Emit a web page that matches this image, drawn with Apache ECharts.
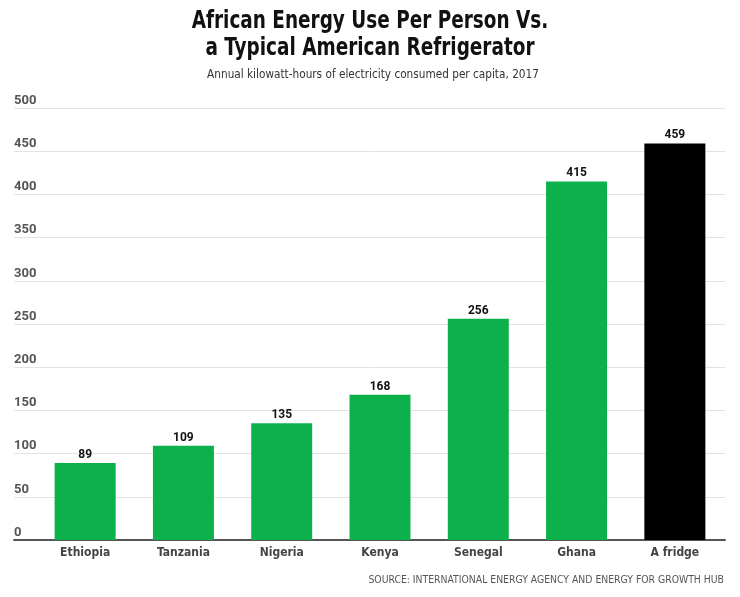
<!DOCTYPE html>
<html><head><meta charset="utf-8">
<script src="https://cdn.jsdelivr.net/npm/echarts@6/dist/echarts.min.js"></script>
<style>html,body{margin:0;padding:0;background:#fff}#c{width:740px;height:597px}</style>
</head><body><div id="c"></div>
<script>
const categories = ['Ethiopia','Tanzania','Nigeria','Kenya','Senegal','Ghana','A fridge'];
const values = [89,109,135,168,256,415,459];
const barColors = ['#0cb14b','#0cb14b','#0cb14b','#0cb14b','#0cb14b','#0cb14b','#000000'];
const yTicks = [0,50,100,150,200,250,300,350,400,450,500];

const chart = echarts.init(document.getElementById('c'), null, {renderer:'canvas'});
const narrow = "'DejaVu Sans Condensed','DejaVu Sans',sans-serif";
function txt(text, x, y, font, fill, align, sx){
  return {type:'text', x:x, y:y, scaleX:sx, silent:true,
    style:{text:text, x:0, y:0, font:font, fill:fill, textAlign:align, textVerticalAlign:'middle'}};
}
chart.setOption({
  backgroundColor:'#fff',
  animation:false,
  graphic:[
    txt('African Energy Use Per Person Vs.', 370, 21, "bold 25px "+narrow, '#111', 'center', 0.82),
    txt('a Typical American Refrigerator', 370, 48, "bold 25px "+narrow, '#111', 'center', 0.82),
    txt('Annual kilowatt-hours of electricity consumed per capita, 2017', 373, 75, "13px "+narrow, '#333', 'center', 0.9),
    txt('SOURCE: INTERNATIONAL ENERGY AGENCY AND ENERGY FOR GROWTH HUB', 724, 580, "11px "+narrow, '#555', 'right', 0.94)
  ],
  grid:[
    {left:14, right:15, top:108, bottom:57},
    {left:36, right:16, top:108, bottom:57}
  ],
  xAxis:[
    {gridIndex:0, type:'value', min:0, max:1, show:true, axisLabel:{show:false}, axisTick:{show:false}, splitLine:{show:false},
     axisLine:{show:true, onZero:false, lineStyle:{color:'#555', width:2}}},
    {gridIndex:1, type:'category', data:categories, axisLine:{show:false}, axisTick:{show:false},
     axisLabel:{fontFamily:narrow, fontWeight:'bold', fontSize:12, color:'#444', margin:7}}
  ],
  yAxis:[
    {gridIndex:0, type:'value', min:0, max:500, interval:50, axisLine:{show:false}, axisTick:{show:false},
     splitLine:{lineStyle:{color:'#e3e3e3', width:1}},
     axisLabel:{inside:true, margin:0, verticalAlign:'bottom', padding:[0,0,1,0], fontFamily:"Roboto,'Liberation Sans',sans-serif", fontWeight:'bold', fontSize:13, color:'#555',
       formatter:v=>yTicks.includes(v)?String(v):''}},
    {gridIndex:1, type:'value', min:0, max:500, interval:50, show:false}
  ],
  series:[{
    type:'bar', xAxisIndex:1, yAxisIndex:1, barWidth:61,
    data: values.map((v,i)=>({value:v, itemStyle:{color:barColors[i]}})),
    label:{show:true, position:'top', distance:2, fontFamily:"Roboto,'Liberation Sans',sans-serif", fontWeight:'bold', fontSize:12, color:'#111'}
  }]
});
</script></body></html>
